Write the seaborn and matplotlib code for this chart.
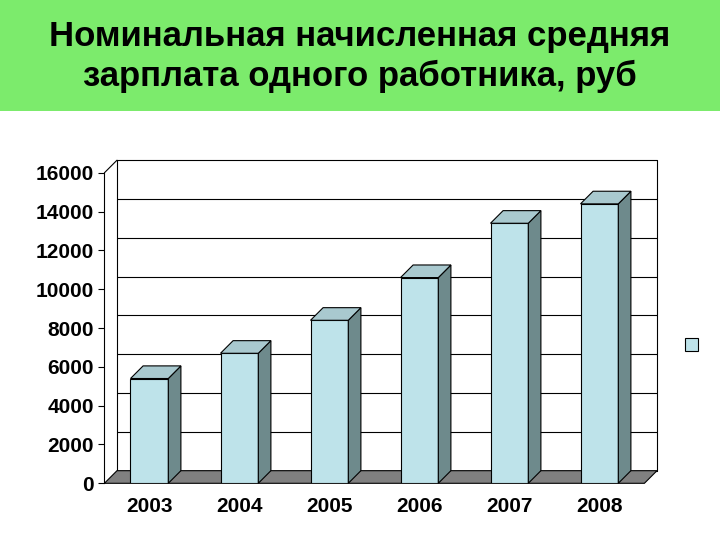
import matplotlib
matplotlib.use("Agg")
import matplotlib.pyplot as plt
import seaborn as sns
import pandas as pd
from matplotlib.patches import Polygon, Rectangle

years = ["2003", "2004", "2005", "2006", "2007", "2008"]
values = [5400, 6700, 8400, 10600, 13400, 14400]
yticks = [0, 2000, 4000, 6000, 8000, 10000, 12000, 14000, 16000]
title = "Номинальная начисленная средняя\nзарплата одного работника, руб"

df = pd.DataFrame({"year": years, "value": values})
sns.set_style("white")
plt.rcParams['font.family'] = ['Liberation Sans', 'DejaVu Sans']

fig = plt.figure(figsize=(7.2, 5.4), dpi=100)
fig.patches.append(Rectangle((0, 0.795), 1, 0.205, transform=fig.transFigure,
                             facecolor="#7CEB6C", edgecolor="none", zorder=-1))
fig.text(0.5, 0.895, title, ha="center", va="center", fontsize=25,
         fontweight="bold", color="black", linespacing=1.25)

ax = fig.add_axes([0.145, 0.105, 0.75, 0.575])
sns.barplot(data=df, x="year", y="value", ax=ax, color="#BEE3EA",
            edgecolor="black", linewidth=0.8, saturation=1, width=0.42, zorder=3)
ax.set_ylim(0, 16000)
ax.set_xlim(-0.5, 5.5)
dx, dy = 0.14, 650
for t in yticks:
    ax.plot([-0.5 + dx, 5.5 + dx], [t + dy, t + dy], color="black", lw=0.8,
            zorder=1, clip_on=False)
ax.plot([-0.5, -0.5 + dx], [16000, 16000 + dy], color="black", lw=0.8, clip_on=False)
ax.plot([-0.5 + dx, -0.5 + dx], [dy, 16000 + dy], color="black", lw=0.8, clip_on=False)
ax.plot([5.5 + dx, 5.5 + dx], [dy, 16000 + dy], color="black", lw=0.8, clip_on=False)
ax.add_patch(Polygon([(-0.5, 0), (5.5, 0), (5.5 + dx, dy), (-0.5 + dx, dy)],
                     closed=True, facecolor="#808080", edgecolor="black",
                     lw=0.8, zorder=2, clip_on=False))
for p in ax.patches[:len(values)]:
    x0, w, h = p.get_x(), p.get_width(), p.get_height()
    ax.add_patch(Polygon([(x0 + w, 0), (x0 + w + dx, dy), (x0 + w + dx, h + dy), (x0 + w, h)],
                         facecolor="#6E8A8C", edgecolor="black", lw=0.8, zorder=3, clip_on=False))
    ax.add_patch(Polygon([(x0, h), (x0 + w, h), (x0 + w + dx, h + dy), (x0 + dx, h + dy)],
                         facecolor="#A9C9CF", edgecolor="black", lw=0.8, zorder=3, clip_on=False))
ax.set_yticks(yticks)
ax.set_yticklabels([str(t) for t in yticks], fontsize=15, fontweight="bold", color="black")
ax.set_xticklabels(years, fontsize=15, fontweight="bold", color="black")
ax.set_xlabel(""); ax.set_ylabel("")
for s in ["top", "right", "bottom"]:
    ax.spines[s].set_visible(False)
ax.spines["left"].set_color("black")
ax.tick_params(axis="y", length=4, left=True, color="black")
ax.tick_params(axis="x", length=0, pad=10)
fig.patches.append(Rectangle((0.952, 0.35), 0.018, 0.025, transform=fig.transFigure,
                             facecolor="#BEE3EA", edgecolor="black", lw=0.8))
fig.savefig("out.png", dpi=100)
